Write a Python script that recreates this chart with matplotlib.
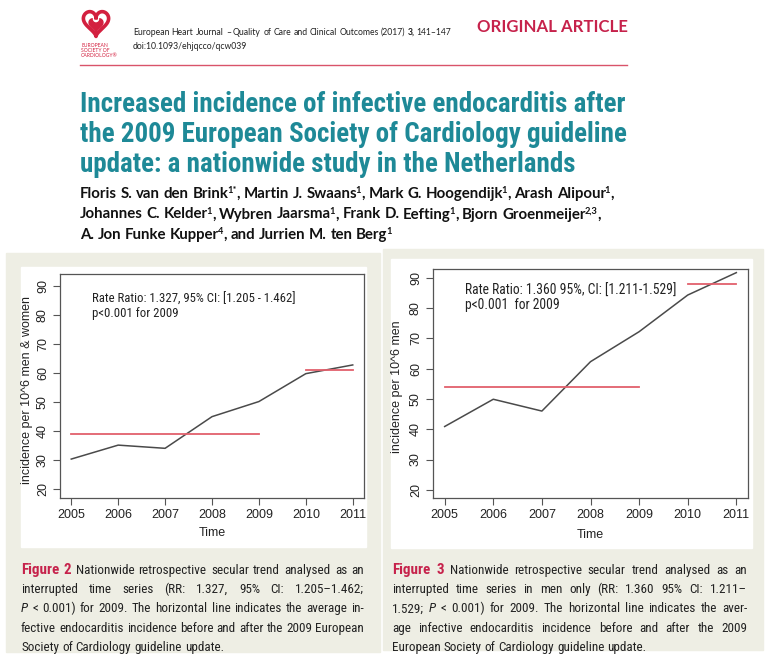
import re
import numpy as np
import matplotlib
matplotlib.use("Agg")
import matplotlib.pyplot as plt
import matplotlib.font_manager as fm
from matplotlib.patches import Rectangle

# data
years = [2005, 2006, 2007, 2008, 2009, 2010, 2011]
inc_all = [30.3, 35.1, 34.0, 44.9, 50.1, 59.7, 62.7]
inc_men = [40.9, 49.9, 46.0, 62.3, 72.2, 84.3, 91.7]
mean_all = [38.9, 61.0]
mean_men = [54.1, 88.0]
periods = [(2005, 2009), (2010, 2011)]
yticks = [20, 30, 40, 50, 60, 70, 80, 90]

W, H = 770, 661
BEIGE = "#eeeee4"
CRIMSON = "#c6224b"
TEAL = "#1e8997"
RED = "#e2606c"
FRAME = "#555555"
LINE = "#4a4a4a"
BODY = "Lato"

# a narrow face for the journal's condensed type, if one is installed
NARROW = {"family": BODY}
entries = fm.fontManager.ttflist
for cand in ["Liberation Sans Narrow", "DejaVu Sans Condensed", "Roboto Condensed",
             "Open Sans Condensed", "Noto Sans Condensed"]:
    if any(f.name == cand for f in entries):
        NARROW = {"family": cand}
        break
else:
    for fam in ["Noto Sans", "Open Sans", "DejaVu Sans"]:
        if any(f.name == fam and f.stretch in ("condensed", "semi-condensed") for f in entries):
            NARROW = {"family": fam, "stretch": "condensed"}
            break

plt.rcParams["font.family"] = ["Liberation Sans", "DejaVu Sans"]

fig = plt.figure(figsize=(W / 100, H / 100), dpi=100)
fig.canvas.draw()
R = fig.canvas.get_renderer()


def fx(x):
    return x / W


def fy(y):
    return 1 - y / H


def measure(s, **kw):
    t = fig.text(0, 0, s, **kw)
    w = t.get_window_extent(R).width
    t.remove()
    return w


def fit(s, width, **kw):
    return 10 * width / measure(s, size=10, **kw)


def parse(s):
    # {b} crimson bold word, {B} bold word, {i} italic word, {^x} superscript
    words = []
    for w in s.split(" "):
        st = {}
        if w.startswith("{b}"):
            st, w = {"weight": "bold", "color": CRIMSON, "scale": 1.15}, w[3:]
        elif w.startswith("{B}"):
            st, w = {"weight": "bold"}, w[3:]
        elif w.startswith("{i}"):
            st, w = {"style": "italic"}, w[3:]
        pieces = []
        for i, part in enumerate(re.split(r"\{\^(.*?)\}", w)):
            if part:
                pieces.append((part, {"sup": True} if i % 2 else st))
        words.append(pieces)
    return words


def line(x, y, s, base, x1=None, draw=True):
    size = base["size"]
    pieces = []
    for word in parse(s):
        p = []
        for t, st in word:
            kw = dict(base)
            st = dict(st)
            dy = dx = 0
            if st.pop("sup", False):
                kw["size"] = size * 0.62
                dy = size * 0.45
                dx = -size * 0.12
            sc = st.pop("scale", 1)
            kw.update(st)
            kw["size"] = kw["size"] * sc
            p.append((t, kw, dx, dy, measure(t, **kw) + dx))
        pieces.append(p)
    total = sum(q[4] for p in pieces for q in p)
    if x1 is None or len(pieces) < 2:
        gap = measure("a a", **base) - measure("aa", **base)
    else:
        gap = (x1 - x - total) / (len(pieces) - 1)
    if not draw:
        return total + gap * (len(pieces) - 1)
    cx = x
    for p in pieces:
        for t, kw, dx, dy, w in p:
            fig.text(fx(cx + dx), fy(y - dy), t, ha="left", va="baseline", **kw)
            cx += w
        cx += gap


def fit_line(s, width, base):
    b = dict(base, size=10)
    return 10 * width / line(0, 0, s, b, draw=False)


# ---- header ----
lax = fig.add_axes([fx(81), fy(39), 30 / W, 30 / H])
t = np.linspace(0, 2 * np.pi, 300)
hx = 16 * np.sin(t) ** 3
hy = 13 * np.cos(t) - 5 * np.cos(2 * t) - 2 * np.cos(3 * t) - np.cos(4 * t)
lax.plot(hx, hy, color="#d3203f", lw=2.6)
lax.fill(hx * 0.55, hy * 0.55 - 3, color="#d3203f")
lax.add_patch(plt.Circle((0, 3.5), 3.2, color="white"))
lax.set_xlim(-19, 19)
lax.set_ylim(-20, 15)
lax.axis("off")
for i, s in enumerate(["EUROPEAN", "SOCIETY OF", "CARDIOLOGY\u00ae"]):
    fig.text(fx(81), fy(47 + 5.2 * i), s, color="#d3203f", size=3.6,
             family=BODY, va="baseline")

hbase = {"family": BODY, "color": "#222222"}
head = "European Heart Journal \u2013 Quality of Care and Clinical Outcomes (2017) {B}3, 141\u2013147"
hbase["size"] = fit_line(head, 316, hbase)
line(133, 35, head, hbase)
line(133, 49, "doi:10.1093/ehjqcco/qcw039", hbase)
osize = fit("ORIGINAL ARTICLE", 150, family=BODY, weight="bold")
fig.text(fx(477), fy(32), "ORIGINAL ARTICLE", color=CRIMSON, family=BODY,
         weight="bold", size=osize, va="baseline")
fig.add_artist(plt.Line2D([fx(80), fx(627)], [fy(65), fy(65)], color="#d9536a", lw=1))

title = ["Increased incidence of infective endocarditis after",
         "the 2009 European Society of Cardiology guideline",
         "update: a nationwide study in the Netherlands"]
tsize = fit(title[1], 547, weight="bold", **NARROW)
for i, s in enumerate(title):
    fig.text(fx(80), fy(112 + 30 * i), s, color=TEAL, weight="bold",
             size=tsize, va="baseline", **NARROW)

authors = ["Floris S. van den Brink{^1*}, Martin J. Swaans{^1}, Mark G. Hoogendijk{^1}, Arash Alipour{^1},",
           "Johannes C. Kelder{^1}, Wybren Jaarsma{^1}, Frank D. Eefting{^1}, Bjorn Groenmeijer{^2,3},",
           "A. Jon Funke Kupper{^4}, and Jurrien M. ten Berg{^1}"]
abase = {"family": BODY, "weight": "bold", "color": "#111111"}
abase["size"] = fit_line(authors[0], 534, abase)
for i, s in enumerate(authors):
    line(80, 198 + 20.5 * i, s, abase)

# ---- panels ----
for (x0, y0, x1, y1) in [(6, 253, 380, 652), (383, 249, 763, 650)]:
    fig.add_artist(Rectangle((fx(x0), fy(y1)), (x1 - x0) / W, (y1 - y0) / H,
                             transform=fig.transFigure, color=BEIGE, zorder=0))
for (x0, y0, x1, y1) in [(21, 267, 366, 547), (391, 259, 752, 548)]:
    fig.add_artist(Rectangle((fx(x0), fy(y1)), (x1 - x0) / W, (y1 - y0) / H,
                             transform=fig.transFigure, color="white", zorder=0))


def chart(box, ylim, values, means, ylabel, ylab_xy, time_xy, notes, note_xy, note_w):
    l, t, r, b = box
    ax = fig.add_axes([fx(l), fy(b), (r - l) / W, (b - t) / H])
    ax.plot(years, values, color=LINE, lw=1.1)
    for (a, e), m in zip(periods, means):
        ax.plot([a, e], [m, m], color=RED, lw=1.3)
    ax.set_xlim(2004.76, 2011.24)
    ax.set_ylim(*ylim)
    ax.set_xticks(years, labels=[str(y) for y in years])
    ax.set_yticks(yticks, labels=[str(v) for v in yticks], rotation=90, va="center")
    ax.tick_params(direction="out", length=5, width=0.8, color=FRAME, labelsize=9,
                   pad=3, labelcolor="#222222")
    for s in ax.spines.values():
        s.set_color(FRAME)
        s.set_linewidth(0.9)
    fig.text(fx(ylab_xy[0]), fy(ylab_xy[1]), ylabel, rotation=90, ha="center",
             va="center", size=9, color="#222222")
    fig.text(fx(time_xy[0]), fy(time_xy[1]), "Time", ha="center", va="center",
             size=9, color="#222222")
    nsize = fit(notes[0], note_w, **NARROW)
    for i, s in enumerate(notes):
        fig.text(fx(note_xy[0]), fy(note_xy[1] + 14 * i), s, size=nsize,
                 va="center", color="#222222", **NARROW)


chart((60, 274, 364, 498), (16.9, 94.0), inc_all, mean_all,
      "incidence per 10^6 men & women", (27, 390), (212, 533),
      ["Rate Ratio: 1.327, 95% CI: [1.205 - 1.462]", "p<0.001 for 2009"], (92, 299), 201)
chart((433, 269, 748, 498), (17.3, 92.9), inc_men, mean_men,
      "incidence per 10^6 men", (397, 387), (590, 535),
      ["Rate Ratio: 1.360 95%, CI: [1.211-1.529]", "p<0.001  for 2009"], (465, 291), 210)

# ---- captions ----
cbase = dict(NARROW, color="#222222")
cbase["size"] = fit_line("fective endocarditis incidence before and after the 2009 European", 338, cbase)
cap2 = ["{b}Figure {b}2 Nationwide retrospective secular trend analysed as an",
        "interrupted time series (RR: 1.327, 95% CI: 1.205\u20131.462;",
        "{i}P < 0.001) for 2009. The horizontal line indicates the average in-",
        "fective endocarditis incidence before and after the 2009 European",
        "Society of Cardiology guideline update."]
cap3 = ["{b}Figure {b}3 Nationwide retrospective secular trend analysed as an",
        "interrupted time series in men only (RR: 1.360 95% CI: 1.211\u2013",
        "1.529; {i}P < 0.001) for 2009. The horizontal line indicates the aver-",
        "age infective endocarditis incidence before and after the 2009",
        "European Society of Cardiology guideline update."]
for x0, x1, cap in [(21, 364, cap2), (392, 747, cap3)]:
    for i, s in enumerate(cap):
        last = i == len(cap) - 1
        line(x0, 574 + 19.2 * i, s, cbase, None if last else x1)

fig.savefig("out.png", dpi=100)
